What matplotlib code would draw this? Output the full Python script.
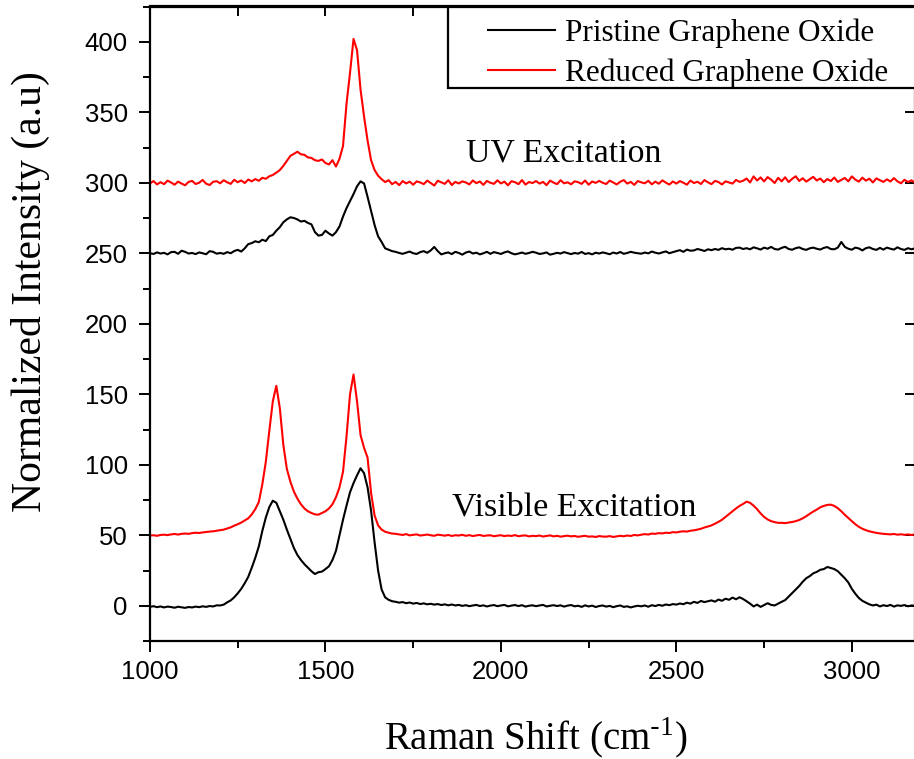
import numpy as np
import matplotlib
matplotlib.use("Agg")
import matplotlib.pyplot as plt
from matplotlib.ticker import MultipleLocator
from matplotlib.patches import Rectangle

# Raman shift grid (cm^-1), 10 cm^-1 steps from 1000 to 3180
raman_shift = np.arange(1000, 3181, 10)

# UV excitation, Reduced Graphene Oxide (offset ~300)
uv_reduced = [
    299.5, 301.2, 298.8, 300.4, 299.0, 301.5, 300.2, 298.6, 300.8, 299.4,
    298.2, 300.6, 301.3, 299.1, 300.0, 302.0, 299.3, 298.4, 300.7, 301.1,
    299.6, 301.8, 300.3, 299.2, 302.1, 300.4, 301.6, 299.8, 302.3, 301.0,
    302.6, 301.4, 303.5, 302.8, 304.6, 305.5, 307.2, 309.0, 312.0, 315.5,
    319.0, 320.5, 322.0, 320.2, 319.8, 318.0, 317.6, 316.0, 315.5, 316.5,
    314.0, 313.0, 316.0, 311.5, 317.0, 326.0, 356.0, 378.0, 402.0, 394.0,
    366.0, 347.0, 330.0, 316.0, 309.0, 305.0, 302.5, 300.5, 301.8, 299.0,
    300.6, 298.3, 301.2, 299.5, 300.8, 298.6, 301.0, 300.2, 299.0, 301.5,
    299.8, 298.0, 301.4, 300.3, 299.2, 301.8, 298.4, 300.6, 299.5, 301.0,
    300.2, 298.8, 301.6, 299.7, 300.9, 298.5, 301.3, 300.0, 299.2, 301.7,
    299.5, 300.8, 298.2, 301.1, 300.4, 299.0, 301.9, 298.7, 300.5, 299.8,
    301.2, 299.4, 300.6, 298.3, 301.5, 300.1, 299.0, 301.8, 299.6, 300.3,
    298.9, 301.0, 300.4, 299.2, 301.6, 298.6, 300.9, 299.9, 301.3, 300.0,
    299.1, 301.5, 300.2, 298.8, 300.7, 301.9, 299.4, 300.6, 298.5, 301.2,
    300.3, 299.6, 301.4, 298.9, 300.8, 299.3, 301.7, 300.1, 298.7, 300.9,
    299.4, 301.2, 300.0, 298.6, 301.5, 299.8, 300.7, 299.1, 301.9, 300.3,
    299.0, 301.3, 300.5, 298.8, 301.0, 300.2, 299.4, 302.0, 300.6, 301.4,
    303.0, 300.2, 304.5, 301.6, 303.8, 300.9, 304.0, 302.2, 299.8, 303.5,
    301.0, 303.9, 300.5, 302.8, 304.6, 301.3, 303.2, 300.8, 302.5, 304.2,
    301.6, 303.0, 300.4, 302.6, 301.2, 303.7, 300.6, 302.0, 303.4, 301.0,
    304.5, 302.2, 300.8, 303.6, 301.5, 302.9, 300.2, 303.1, 301.8, 300.6,
    302.4, 300.9, 303.3, 301.0, 299.6, 302.1, 300.5, 301.7, 299.9,
]

# UV excitation, Pristine Graphene Oxide (offset ~250)
uv_pristine = [
    250.0, 249.5, 250.6, 249.8, 250.3, 249.2, 250.8, 251.0, 249.6, 251.8,
    251.0, 249.8, 250.2, 249.4, 250.6, 250.0, 249.3, 251.5, 251.0, 249.7,
    250.2, 249.6, 250.8, 250.0, 251.6, 252.4, 251.2, 253.5, 256.5, 257.2,
    258.5, 257.8, 259.6, 258.6, 262.0, 263.0, 266.0, 268.5, 272.0, 274.0,
    275.5, 275.0, 274.0, 272.5, 273.0, 271.5, 270.5, 265.0, 262.5, 263.0,
    266.0, 264.0, 262.5, 265.0, 269.0, 276.0, 282.0, 287.0, 292.0, 297.5,
    301.0, 299.5, 290.0, 280.0, 270.0, 262.0, 258.0, 253.5, 252.5, 251.5,
    251.0, 250.2, 249.6, 250.4, 251.2, 250.0, 249.5, 250.8, 251.5, 250.3,
    252.0, 254.5, 251.5, 249.2, 250.0, 250.6, 249.4, 251.0, 250.2, 249.0,
    250.5, 251.2, 249.8, 250.4, 249.2, 250.0, 251.0, 249.6, 250.8, 250.2,
    249.5, 250.6, 251.3, 250.0, 249.2, 249.8, 250.5, 249.6, 250.2, 251.0,
    250.4, 249.5, 249.9, 250.6, 249.0, 249.6, 250.3, 249.8, 250.8, 250.1,
    249.4, 250.2, 249.7, 250.9, 249.5, 250.1, 249.2, 250.4, 249.8, 250.6,
    250.0, 249.3, 250.5, 249.8, 250.9, 249.6, 250.2, 251.0, 250.4, 250.0,
    249.7, 250.5, 249.9, 251.2, 250.4, 249.8, 250.6, 251.3, 250.0, 250.8,
    251.5, 252.2, 251.0, 252.6, 251.8, 252.0, 253.0, 252.4, 251.6, 252.8,
    252.2, 253.0, 252.4, 253.6, 252.8, 253.2, 252.5, 253.8, 254.0, 253.0,
    253.6, 252.8, 254.2, 253.5, 252.6, 254.0, 253.2, 254.5, 253.0, 252.6,
    253.8, 254.6, 253.0, 252.5, 253.6, 254.2, 253.0, 252.4, 253.5, 254.0,
    253.2, 252.6, 253.8, 254.4, 253.0, 252.8, 254.0, 258.0, 254.5, 253.2,
    252.5, 254.0, 253.4, 252.0, 253.6, 254.2, 253.0, 252.4, 253.8, 252.6,
    254.0, 253.2, 252.6, 254.2, 253.0, 252.4, 253.6, 252.8, 253.5,
]

# Visible excitation, Reduced Graphene Oxide (offset ~50)
vis_reduced = [
    49.8, 50.0, 49.6, 50.2, 50.4, 50.1, 50.6, 50.9, 50.5, 51.0,
    51.2, 51.0, 51.5, 51.8, 51.6, 52.0, 52.3, 52.6, 52.8, 53.2,
    53.6, 54.0, 54.8, 55.6, 56.8, 57.8, 59.0, 60.5, 62.0, 64.8,
    68.5, 73.5, 86.0, 102.0, 124.0, 145.0, 156.0, 140.0, 114.0, 97.0,
    88.0, 81.0, 76.0, 72.0, 69.0, 67.0, 65.8, 64.8, 64.6, 65.8,
    67.0, 69.0, 72.0, 77.0, 84.0, 95.0, 120.0, 150.0, 164.0, 145.0,
    121.0, 112.0, 105.0, 80.0, 64.0, 57.0, 54.0, 52.5, 51.8, 51.2,
    51.0, 50.6, 50.2, 50.8, 49.9, 50.3, 50.6, 49.8, 50.1, 50.5,
    50.0, 49.6, 50.4, 50.1, 49.7, 50.2, 49.5, 50.0, 49.8, 50.3,
    49.6, 50.1, 49.4, 49.9, 50.2, 49.5, 49.8, 50.0, 49.3, 49.7,
    50.0, 49.4, 49.8, 49.5, 50.1, 49.3, 49.7, 49.9, 49.2, 49.6,
    49.4, 49.8, 49.1, 49.5, 49.9, 49.2, 49.6, 49.0, 49.4, 49.7,
    49.2, 49.5, 48.9, 49.3, 49.6, 49.0, 49.2, 48.8, 49.4, 49.1,
    49.0, 49.4, 48.8, 49.2, 49.6, 49.3, 49.8, 49.5, 50.2, 49.9,
    50.4, 50.8, 50.5, 51.2, 51.0, 51.5, 51.3, 51.8, 51.6, 52.2,
    52.0, 52.5, 52.8, 52.6, 53.2, 53.5, 54.0, 54.6, 55.5, 56.2,
    57.0, 58.2, 59.5, 61.0, 63.0, 65.0, 67.0, 69.0, 70.8, 72.2,
    73.8, 73.0, 71.0, 68.5, 65.5, 63.0, 61.2, 60.0, 59.3, 58.8,
    58.8, 58.6, 59.0, 59.4, 60.0, 60.8, 62.0, 63.5, 65.2, 66.8,
    68.2, 69.8, 70.8, 71.5, 71.7, 70.8, 69.2, 67.0, 64.5, 62.2,
    60.0, 57.8, 56.0, 54.6, 53.6, 52.8, 52.2, 51.7, 51.3, 51.0,
    50.8, 50.6, 50.9, 50.4, 50.7, 50.3, 50.6, 50.2, 50.5,
]

# Visible excitation, Pristine Graphene Oxide (offset 0)
vis_pristine = [
    -0.8, -0.3, -1.0, -0.5, -1.2, -0.6, -0.9, -1.4, -0.7, -1.1,
    -1.5, -0.9, -1.2, -0.6, -1.0, -0.4, -0.8, -0.2, -0.5, 0.3,
    0.2, 0.8, 2.4, 3.8, 6.0, 8.8, 12.0, 16.0, 20.5, 27.0,
    34.0, 42.0, 53.0, 62.5, 70.0, 74.5, 73.0, 67.0, 61.0, 54.0,
    47.5, 41.0, 36.0, 32.5, 29.5, 27.0, 24.5, 22.5, 23.8, 24.2,
    26.0, 28.0, 32.5, 39.0, 50.0, 61.0, 71.0, 80.5, 87.0, 92.5,
    97.5, 94.0, 84.0, 67.5, 45.0, 25.0, 11.5, 6.0, 4.2, 3.2,
    2.8, 2.2, 2.6, 1.8, 2.3, 1.5, 2.0, 1.2, 1.7, 1.0,
    1.4, 0.8, 1.2, 0.5, 1.0, 0.3, 0.9, 0.2, 0.6, -0.1,
    0.4, -0.3, 0.2, 0.6, -0.2, 0.3, -0.5, 0.1, 0.5, -0.3,
    0.2, 0.6, -0.4, 0.1, 0.5, -0.2, 0.4, -0.6, 0.0, 0.3,
    -0.3, 0.2, 0.6, -0.5, 0.0, 0.4, -0.2, 0.3, -0.6, 0.1,
    0.5, -0.4, 0.0, -0.8, 0.3, -0.5, 0.1, -0.9, -0.2, 0.2,
    -0.6, -0.1, -1.0, -0.3, 0.2, -0.8, -0.4, -1.2, -0.5, 0.0,
    -0.4, 0.2, -0.7, 0.4, -0.2, 0.6, 0.0, 0.9, 0.4, 1.2,
    0.8, 1.6, 1.1, 2.2, 1.5, 2.8, 2.0, 3.4, 2.6, 3.2,
    3.8, 2.9, 4.4, 3.5, 5.0, 4.2, 5.8, 4.6, 6.0, 4.8,
    3.2, 1.5, -0.5, 0.8, -0.8, 0.5, 1.8, 0.6, 0.2, 1.5,
    2.8, 4.0, 6.5, 9.0, 11.5, 14.0, 17.0, 19.5, 21.0, 23.0,
    24.0, 25.5, 26.0, 27.5, 26.8, 26.0, 24.5, 22.0, 19.5, 16.5,
    12.0, 8.5, 5.5, 3.5, 2.2, 1.0, 0.2, 0.8, -0.5, 0.4,
    -0.2, 0.6, -0.6, 0.3, -0.1, 0.5, -0.4, 0.2, 0.0,
]

legend_labels = ["Pristine Graphene Oxide", "Reduced Graphene Oxide"]
annotations = ["UV Excitation", "Visible Excitation"]

SERIF = ["Liberation Serif", "DejaVu Serif"]
SANS = ["Liberation Sans", "DejaVu Sans"]

W, H = 914, 759
fig = plt.figure(figsize=(W / 100, H / 100), dpi=100)
ax = fig.add_axes([150 / W, 1 - 641 / H, 765 / W, (641 - 6.5) / H])

lw = 1.5
l1, = ax.plot(raman_shift, vis_pristine, color="black", lw=lw)
ax.plot(raman_shift, uv_pristine, color="black", lw=lw)
l2, = ax.plot(raman_shift, vis_reduced, color="#ff0000", lw=lw)
ax.plot(raman_shift, uv_reduced, color="#ff0000", lw=lw)

ax.set_xlim(1000, 3180)
ax.set_ylim(-25, 425)

ax.xaxis.set_major_locator(MultipleLocator(500))
ax.xaxis.set_minor_locator(MultipleLocator(250))
ax.yaxis.set_major_locator(MultipleLocator(50))
ax.yaxis.set_minor_locator(MultipleLocator(25))

ax.tick_params(axis="both", which="major", direction="out", length=8, width=1.4,
               labelsize=18.5, top=False, right=False)
ax.tick_params(axis="both", which="minor", direction="out", length=5, width=1.4,
               top=False, right=False)
ax.tick_params(axis="y", which="major", pad=8)
ax.tick_params(axis="x", which="major", pad=6)
for lab in ax.get_xticklabels() + ax.get_yticklabels():
    lab.set_family(SANS)

# inward ticks on top and right
sec_x = ax.secondary_xaxis("top")
sec_x.xaxis.set_major_locator(MultipleLocator(250))
sec_x.tick_params(direction="in", length=7, width=1.4, labeltop=False)
sec_y = ax.secondary_yaxis("right")
sec_y.yaxis.set_major_locator(MultipleLocator(50))
sec_y.tick_params(direction="in", length=7, width=1.4, labelright=False)
sec_x.spines["top"].set_linewidth(1.6)
sec_y.spines["right"].set_linewidth(1.6)

for s in ax.spines.values():
    s.set_linewidth(1.6)

ax.set_xlabel("Raman Shift (cm$^{\\mathregular{\\text{-}1}}$)", family=SERIF, fontsize=28)
ax.xaxis.set_label_coords(0.505, (641 - 738) / 634.5)
ax.xaxis.label.set_va("center")
ax.set_ylabel("Normalized Intensity (a.u)", family=SERIF, fontsize=30)
ax.yaxis.set_label_coords((30 - 150) / 765, (641 - 292) / 634.5)
ax.yaxis.label.set_va("center")

ax.text(2179, 321, annotations[0], family=SERIF, fontsize=24.3, ha="center", va="center")
ax.text(2209, 70, annotations[1], family=SERIF, fontsize=24.5, ha="center", va="center")

# legend frame (extends past the right edge of the figure)
frame = Rectangle((448 / W, 1 - 88 / H), 480 / W, 81.5 / H, transform=fig.transFigure,
                  facecolor="white", edgecolor="black", linewidth=1.6, zorder=3)
fig.patches.append(frame)
leg = fig.legend([l1, l2], legend_labels, loc="upper left",
                 bbox_to_anchor=(488 / W, 1 - 18.9 / H),
                 prop={"family": SERIF, "size": 22.5}, frameon=False,
                 borderaxespad=0, borderpad=0,
                 handlelength=2.15, handletextpad=0.3, labelspacing=0.31)
leg.set_zorder(5)

fig.savefig("out.png", dpi=100)
